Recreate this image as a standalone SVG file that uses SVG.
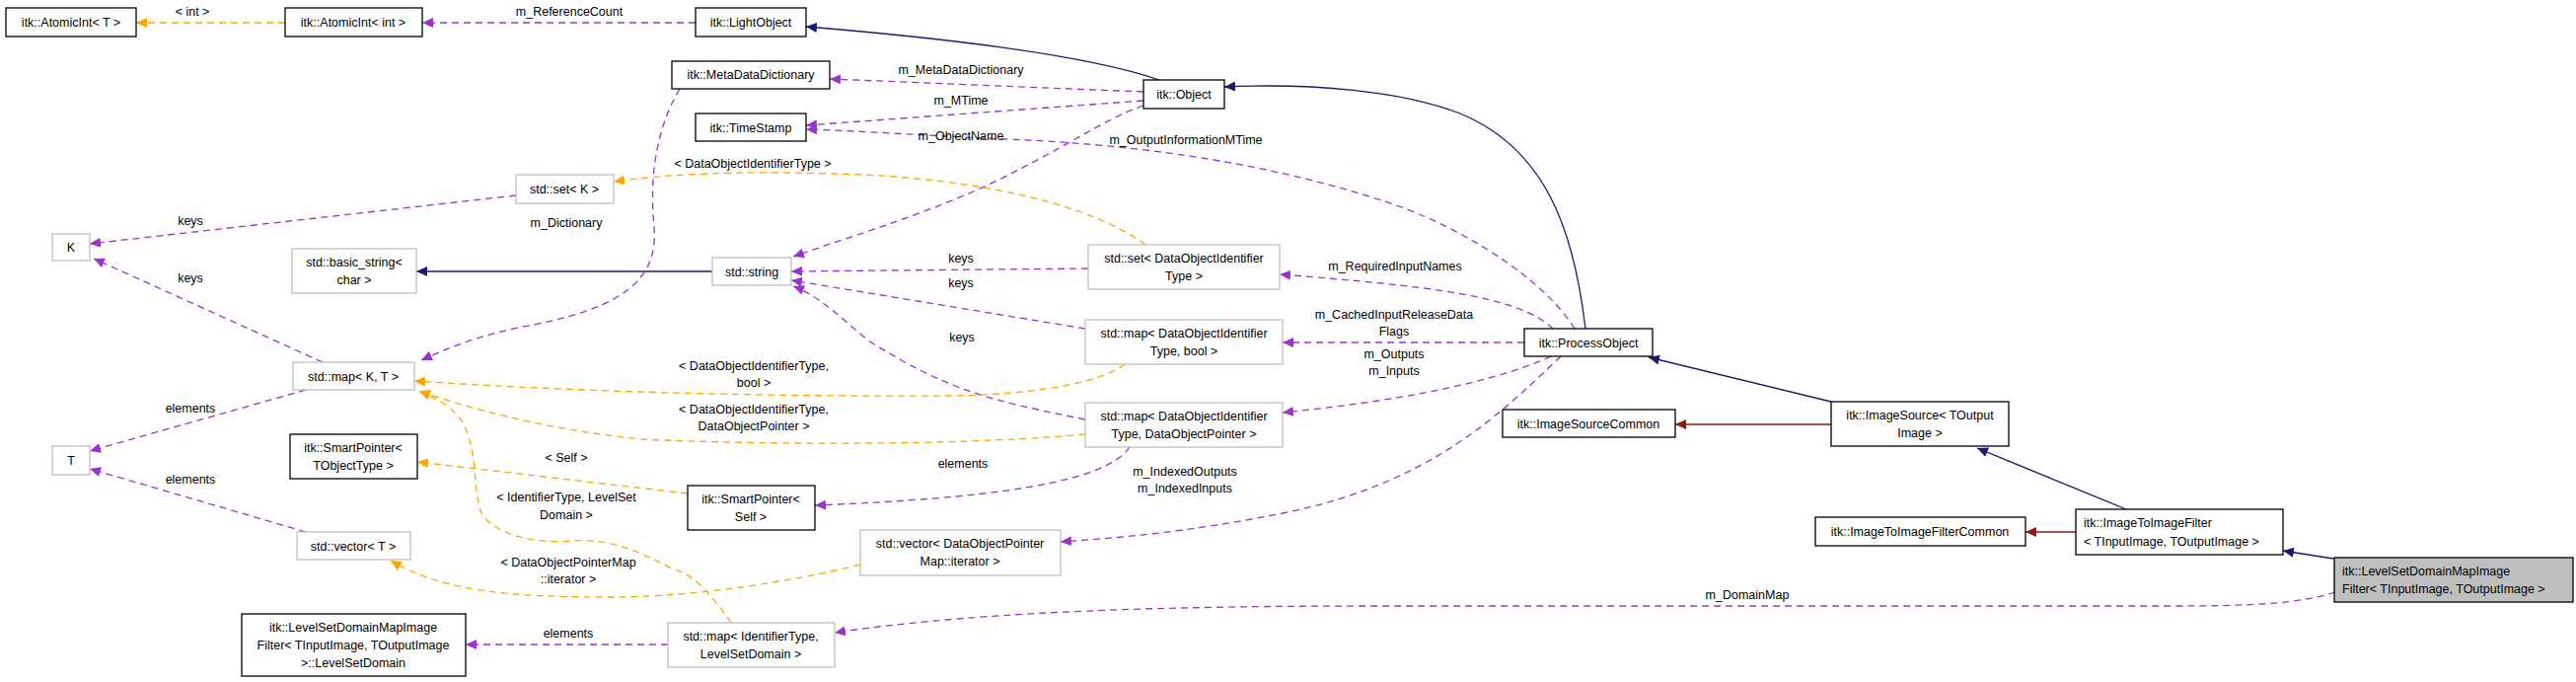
<svg xmlns="http://www.w3.org/2000/svg" width="2611" height="691" viewBox="0 0 2611 691">
<style>
text{font-family:"Liberation Sans",Arial,sans-serif;font-size:12.5px;fill:#000;text-anchor:middle}
.l{text-anchor:start}
.n rect{fill:#fff;stroke:#000;stroke-width:1.3}
.g rect{fill:#fff;stroke:#bfbfbf;stroke-width:1.3}
.s rect{fill:#bfbfbf;stroke:#000;stroke-width:1.3}
.p{fill:none;stroke:#9a32cd;stroke-width:1.3;stroke-dasharray:7,5}
.o{fill:none;stroke:#ffa500;stroke-width:1.3;stroke-dasharray:7,5}
.b{fill:none;stroke:#191970;stroke-width:1.3}
.r{fill:none;stroke:#8b1a1a;stroke-width:1.3}
</style>
<defs>
<marker id="mp" markerWidth="12" markerHeight="10" refX="11" refY="5" orient="auto" markerUnits="userSpaceOnUse"><path d="M0,0 L11,5 L0,10z" fill="#9a32cd"/></marker>
<marker id="mo" markerWidth="12" markerHeight="10" refX="11" refY="5" orient="auto" markerUnits="userSpaceOnUse"><path d="M0,0 L11,5 L0,10z" fill="#ffa500"/></marker>
<marker id="mb" markerWidth="12" markerHeight="10" refX="11" refY="5" orient="auto" markerUnits="userSpaceOnUse"><path d="M0,0 L11,5 L0,10z" fill="#191970"/></marker>
<marker id="mr" markerWidth="12" markerHeight="10" refX="11" refY="5" orient="auto" markerUnits="userSpaceOnUse"><path d="M0,0 L11,5 L0,10z" fill="#8b1a1a"/></marker>
</defs>
<g id="edges">
<path class="o" marker-end="url(#mo)" d="M289,23 L138,23"/><text x="195" y="16">&lt; int &gt;</text>
<path class="p" marker-end="url(#mp)" d="M705,23 L428,23"/><text x="577" y="16">m_ReferenceCount</text>
<path class="b" marker-end="url(#mb)" d="M1175,81 C1100,55 950,38 817,27"/>
<path class="b" marker-end="url(#mb)" d="M1607,333 C1595,230 1565,150 1480,115 C1420,92 1330,84 1241,88"/>
<path class="b" marker-end="url(#mb)" d="M1856,407 L1671,362"/>
<path class="r" marker-end="url(#mr)" d="M1856,430 L1698,430"/>
<path class="b" marker-end="url(#mb)" d="M2155,516 L2004,454"/>
<path class="r" marker-end="url(#mr)" d="M2104,539 L2053,539"/>
<path class="b" marker-end="url(#mb)" d="M2365,566 L2314,558"/>
<path class="p" marker-end="url(#mp)" d="M2367,600 C2330,612 2280,614 2200,614 L1400,614 C1200,614 1000,618 846,641"/><text x="1771" y="607">m_DomainMap</text>
<path class="p" marker-end="url(#mp)" d="M677,653 L472,653"/><text x="576" y="646">elements</text>
<path class="o" marker-end="url(#mo)" d="M741,631 C720,600 700,580 683,577 C650,560 620,545 580,548 C540,552 500,540 488,520 C478,490 485,460 470,430 C460,412 440,402 425,397"/>
<text x="574" y="508">&lt; IdentifierType, LevelSet</text><text x="574" y="526">Domain &gt;</text>
<path class="o" marker-end="url(#mo)" d="M872,572 C800,590 700,605 620,605 C520,605 450,600 396,568"/>
<text x="576" y="574">&lt; DataObjectPointerMap</text><text x="576" y="591">::iterator &gt;</text>
<path class="p" marker-end="url(#mp)" d="M310,539 L91,475"/><text x="193" y="490">elements</text>
<path class="p" marker-end="url(#mp)" d="M310,395 L91,457"/><text x="193" y="418">elements</text>
<path class="p" marker-end="url(#mp)" d="M327,367 L95,262"/><text x="193" y="286">keys</text>
<path class="p" marker-end="url(#mp)" d="M523,198 L91,247"/><text x="193" y="228">keys</text>
<path class="p" marker-end="url(#mp)" d="M689,90 C665,130 658,180 663,230 C668,290 620,315 525,332 C480,342 455,352 427,365"/><text x="574" y="230">m_Dictionary</text>
<path class="o" marker-end="url(#mo)" d="M1161,248 C1110,210 1000,180 846,176 C750,173 680,176 622,184"/><text x="763" y="170">&lt; DataObjectIdentifierType &gt;</text>
<path class="p" marker-end="url(#mp)" d="M1159,93 L841,80"/><text x="974" y="75">m_MetaDataDictionary</text>
<path class="p" marker-end="url(#mp)" d="M1159,102 L817,127"/><text x="974" y="106">m_MTime</text>
<path class="p" marker-end="url(#mp)" d="M1596,333 C1570,290 1500,240 1421,210 C1330,178 1200,148 1019,141 C950,138 880,133 817,131"/><text x="1202" y="146">m_OutputInformationMTime</text>
<path class="p" marker-end="url(#mp)" d="M1159,107 C1120,120 1080,150 1000,188 C930,220 860,240 804,260"/><text x="974" y="142">m_ObjectName</text>
<path class="b" marker-end="url(#mb)" d="M722,275 L422,275"/>
<path class="p" marker-end="url(#mp)" d="M1103,272 L802,275"/><text x="974" y="266">keys</text>
<path class="p" marker-end="url(#mp)" d="M1100,333 L802,284"/><text x="974" y="291">keys</text>
<path class="p" marker-end="url(#mp)" d="M1100,425 C1000,405 960,395 880,345 C850,320 830,300 804,290"/><text x="975" y="346">keys</text>
<path class="o" marker-end="url(#mo)" d="M1140,369 C1120,385 1060,400 960,401 C800,402 600,398 420,386"/>
<text x="764" y="375">&lt; DataObjectIdentifierType,</text><text x="764" y="392">bool &gt;</text>
<path class="o" marker-end="url(#mo)" d="M1100,440 C1000,450 800,452 650,445 C550,435 470,412 425,396"/>
<text x="764" y="419">&lt; DataObjectIdentifierType,</text><text x="764" y="436">DataObjectPointer &gt;</text>
<path class="o" marker-end="url(#mo)" d="M697,500 L423,468"/><text x="574" y="468">&lt; Self &gt;</text>
<path class="p" marker-end="url(#mp)" d="M1145,453 C1120,490 1000,505 826,512"/><text x="976" y="474">elements</text>
<path class="p" marker-end="url(#mp)" d="M1574,333 C1540,300 1450,290 1297,278"/><text x="1414" y="274">m_RequiredInputNames</text>
<path class="p" marker-end="url(#mp)" d="M1545,347 L1300,347"/><text x="1413" y="323">m_CachedInputReleaseData</text><text x="1413" y="340">Flags</text>
<path class="p" marker-end="url(#mp)" d="M1572,361 C1520,385 1430,405 1300,418"/><text x="1413" y="363">m_Outputs</text><text x="1413" y="380">m_Inputs</text>
<path class="p" marker-end="url(#mp)" d="M1582,361 C1520,420 1450,490 1300,520 C1200,540 1130,545 1075,549"/><text x="1201" y="482">m_IndexedOutputs</text><text x="1201" y="499">m_IndexedInputs</text>
</g>
<g id="AtomicIntT" class="n"><rect x="6" y="8" width="132" height="29"/><text x="72" y="27">itk::AtomicInt&lt; T &gt;</text></g>
<g id="AtomicIntInt" class="n"><rect x="289" y="8" width="139" height="29"/><text x="358" y="27">itk::AtomicInt&lt; int &gt;</text></g>
<g id="LightObject" class="n"><rect x="705" y="8" width="112" height="29"/><text x="761" y="27">itk::LightObject</text></g>
<g id="MetaDataDictionary" class="n"><rect x="681" y="62" width="160" height="28"/><text x="761" y="80">itk::MetaDataDictionary</text></g>
<g id="Object" class="n"><rect x="1159" y="81" width="82" height="29"/><text x="1200" y="100">itk::Object</text></g>
<g id="TimeStamp" class="n"><rect x="705" y="115" width="112" height="28"/><text x="761" y="134">itk::TimeStamp</text></g>
<g id="setK" class="g"><rect x="523" y="177" width="99" height="29"/><text x="572" y="196">std::set&lt; K &gt;</text></g>
<g id="K" class="g"><rect x="53" y="237" width="38" height="27"/><text x="72" y="255">K</text></g>
<g id="basicString" class="g"><rect x="296" y="252" width="126" height="45"/><text x="359" y="270">std::basic_string&lt;</text><text x="359" y="288">char &gt;</text></g>
<g id="string" class="g"><rect x="722" y="261" width="80" height="28"/><text x="762" y="280">std::string</text></g>
<g id="setDOI" class="g"><rect x="1103" y="248" width="194" height="45"/><text x="1200" y="266">std::set&lt; DataObjectIdentifier</text><text x="1200" y="284">Type &gt;</text></g>
<g id="mapDOIbool" class="g"><rect x="1100" y="324" width="200" height="45"/><text x="1200" y="342">std::map&lt; DataObjectIdentifier</text><text x="1200" y="360">Type, bool &gt;</text></g>
<g id="mapDOIDOP" class="g"><rect x="1100" y="408" width="200" height="45"/><text x="1200" y="426">std::map&lt; DataObjectIdentifier</text><text x="1200" y="444">Type, DataObjectPointer &gt;</text></g>
<g id="ProcessObject" class="n"><rect x="1545" y="333" width="130" height="28"/><text x="1610" y="352">itk::ProcessObject</text></g>
<g id="ImageSourceCommon" class="n"><rect x="1523" y="415" width="175" height="28"/><text x="1610" y="434">itk::ImageSourceCommon</text></g>
<g id="ImageSource" class="n"><rect x="1856" y="407" width="180" height="45"/><text x="1946" y="425">itk::ImageSource&lt; TOutput</text><text x="1946" y="443">Image &gt;</text></g>
<g id="ImageToImageFilterCommon" class="n"><rect x="1840" y="524" width="213" height="29"/><text x="1946" y="543">itk::ImageToImageFilterCommon</text></g>
<g id="ImageToImageFilter" class="n"><rect x="2104" y="516" width="210" height="46"/><text class="l" x="2112" y="534">itk::ImageToImageFilter</text><text class="l" x="2112" y="553">&lt; TInputImage, TOutputImage &gt;</text></g>
<g id="LevelSetDomainMapImageFilter" class="s"><rect x="2366" y="565" width="242" height="45"/><text class="l" x="2374" y="583">itk::LevelSetDomainMapImage</text><text class="l" x="2374" y="601">Filter&lt; TInputImage, TOutputImage &gt;</text></g>
<g id="mapKT" class="g"><rect x="297" y="367" width="123" height="28"/><text x="358" y="386">std::map&lt; K, T &gt;</text></g>
<g id="T" class="g"><rect x="53" y="452" width="38" height="29"/><text x="72" y="471">T</text></g>
<g id="SmartPointerTObjectType" class="n"><rect x="294" y="440" width="129" height="45"/><text x="358" y="458">itk::SmartPointer&lt;</text><text x="358" y="476">TObjectType &gt;</text></g>
<g id="SmartPointerSelf" class="n"><rect x="697" y="492" width="129" height="45"/><text x="761" y="510">itk::SmartPointer&lt;</text><text x="761" y="528">Self &gt;</text></g>
<g id="vectorT" class="g"><rect x="301" y="539" width="115" height="28"/><text x="358" y="558">std::vector&lt; T &gt;</text></g>
<g id="vectorDOPMap" class="g"><rect x="872" y="537" width="203" height="46"/><text x="973" y="555">std::vector&lt; DataObjectPointer</text><text x="973" y="573">Map::iterator &gt;</text></g>
<g id="LevelSetDomain" class="n"><rect x="245" y="622" width="227" height="63"/><text x="358" y="640">itk::LevelSetDomainMapImage</text><text x="358" y="658">Filter&lt; TInputImage, TOutputImage</text><text x="358" y="676">&gt;::LevelSetDomain</text></g>
<g id="mapIdentifierType" class="g"><rect x="677" y="631" width="169" height="45"/><text x="761" y="649">std::map&lt; IdentifierType,</text><text x="761" y="667">LevelSetDomain &gt;</text></g>
</svg>
